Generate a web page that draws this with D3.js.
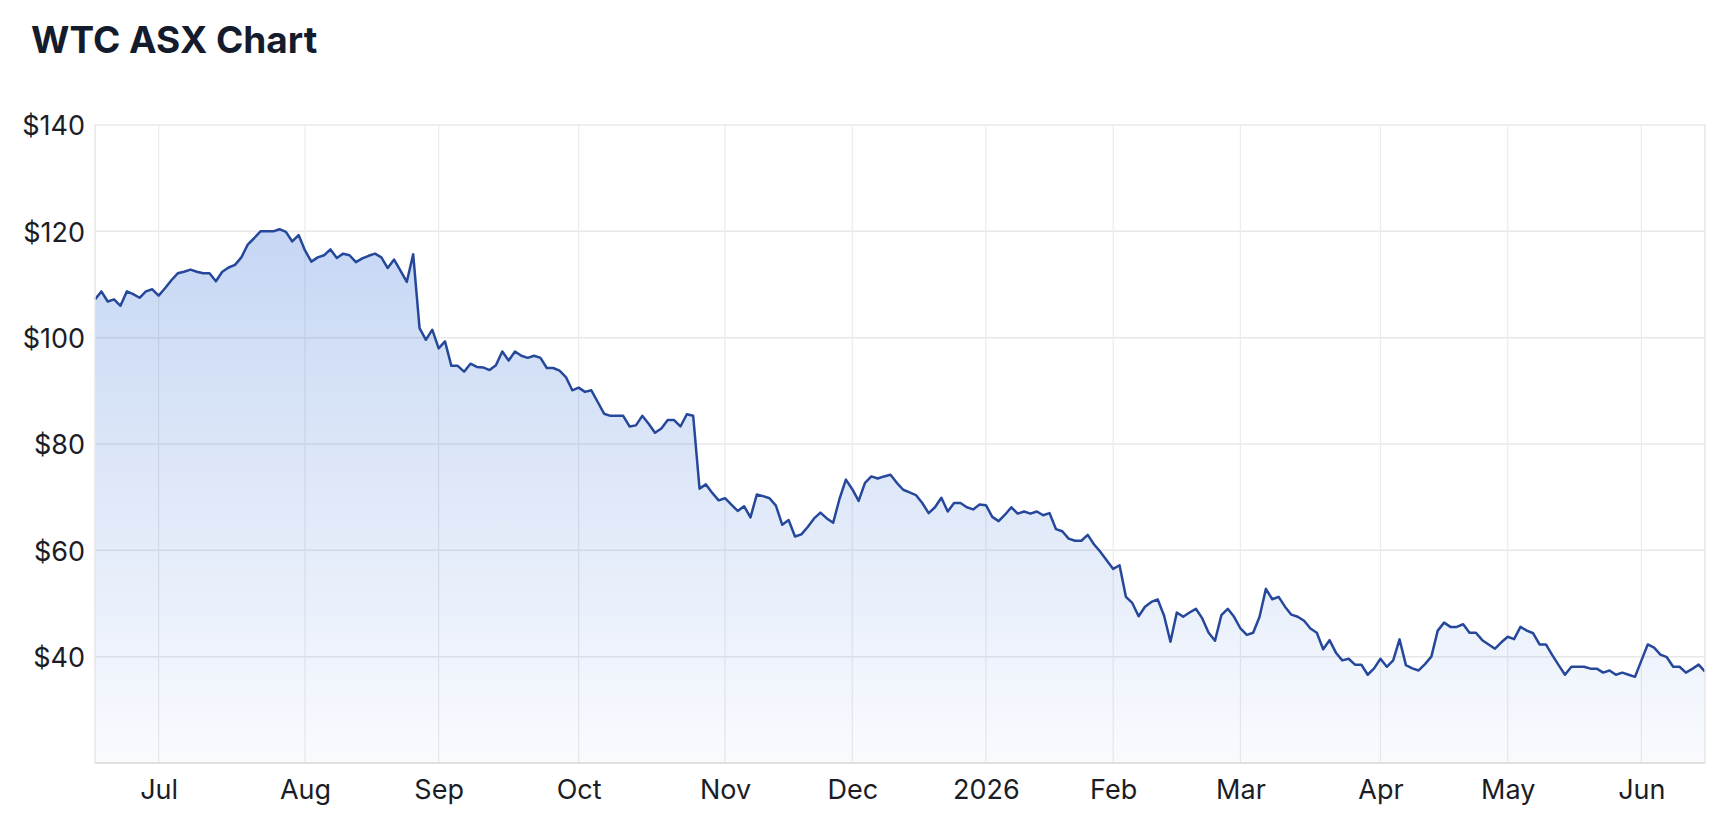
<!DOCTYPE html>
<html>
<head>
<meta charset="utf-8">
<script src="https://cdn.jsdelivr.net/npm/d3@7"></script>
<style>
  body { margin: 0; background: #fff; }
  text { font-family: Inter, "Open Sans", sans-serif; }
</style>
</head>
<body>
<script>
// Daily closing prices, one per ASX trading day (mid Jun 2025 -> mid Jun 2026)
const PRICES = [
  107.2, 108.7, 106.8, 107.2, 106.0, 108.7, 108.2, 107.5, 108.7, 109.1,
  107.9, 109.3, 110.8, 112.1, 112.4, 112.8, 112.4, 112.1, 112.1, 110.6,
  112.4, 113.2, 113.7, 115.1, 117.5, 118.7, 120.0, 120.0, 120.0, 120.4,
  119.9, 118.1, 119.3, 116.4, 114.3, 115.1, 115.5, 116.6, 115.0, 115.8,
  115.5, 114.2, 114.9, 115.4, 115.8, 115.1, 113.1, 114.7, 112.6, 110.5,
  115.7, 101.8, 99.6, 101.5, 98.0, 99.3, 94.7, 94.7, 93.6, 95.1,
  94.5, 94.4, 93.9, 94.8, 97.4, 95.7, 97.4, 96.6, 96.2, 96.6,
  96.2, 94.3, 94.3, 93.8, 92.6, 90.1, 90.6, 89.8, 90.1, 87.9,
  85.7, 85.3, 85.3, 85.3, 83.3, 83.5, 85.3, 83.8, 82.1, 82.9,
  84.5, 84.5, 83.3, 85.6, 85.3, 71.6, 72.4, 70.8, 69.4, 69.8,
  68.6, 67.4, 68.3, 66.2, 70.5, 70.2, 69.8, 68.4, 64.8, 65.7,
  62.6, 63.0, 64.4, 66.0, 67.1, 66.0, 65.2, 69.7, 73.3, 71.5,
  69.3, 72.7, 73.9, 73.5, 73.9, 74.2, 72.7, 71.4, 70.9, 70.4,
  68.9, 67.0, 68.1, 69.9, 67.3, 68.9, 68.9, 68.1, 67.7, 68.6,
  68.5, 66.3, 65.5, 66.7, 68.1, 66.9, 67.3, 66.9, 67.3, 66.6,
  67.0, 64.0, 63.6, 62.2, 61.8, 61.8, 62.9, 61.1, 59.7, 58.1,
  56.5, 57.2, 51.25, 50.1, 47.6, 49.4, 50.3, 50.75, 47.7, 42.8,
  48.3, 47.5, 48.3, 49.0, 47.2, 44.5, 43.0, 47.8, 49.0, 47.5,
  45.3, 44.1, 44.5, 47.5, 52.75, 50.8, 51.25, 49.4, 47.9, 47.5,
  46.75, 45.3, 44.5, 41.4, 43.1, 40.75, 39.3, 39.6, 38.5, 38.5,
  36.6, 37.8, 39.6, 38.1, 39.3, 43.25, 38.4, 37.8, 37.4, 38.6,
  40.0, 44.9, 46.4, 45.6, 45.6, 46.1, 44.5, 44.5, 43.1, 42.3,
  41.5, 42.7, 43.75, 43.3, 45.6, 44.9, 44.4, 42.3, 42.3, 40.3,
  38.4, 36.6, 38.1, 38.1, 38.1, 37.75, 37.75, 37.0, 37.4, 36.6,
  37.0, 36.6, 36.2, 39.25, 42.3, 41.7, 40.4, 39.9, 38.1, 38.1,
  37.0, 37.7, 38.5, 37.2
]

// First trading day of each month (index into PRICES)
const MONTH_INDEX = [10, 33, 54, 76, 99, 119, 140, 160, 180, 202, 222, 243]
const MONTH_LABELS = ['Jul', 'Aug', 'Sep', 'Oct', 'Nov', 'Dec', '2026', 'Feb', 'Mar', 'Apr', 'May', 'Jun']
const PRICE_TICKS = [40, 60, 80, 100, 120, 140]
const PRICE_DOMAIN = [20, 140]

// Initialization
const width = 1728
const height = 840
const plotLeft = 95
const plotRight = 1705
const plotTop = 125
const plotBottom = 763

const svg = d3.select('body').append('svg')
  .attr('width', width)
  .attr('height', height)

// Add title
svg.append('text')
  .attr('x', 31)
  .attr('y', 53)
  .style('font-size', '37px')
  .style('font-weight', 700)
  .style('fill', '#141b2d')
  .text('WTC ASX Chart')

// Scales
const x = d3.scaleLinear()
  .domain([0, PRICES.length - 1])
  .range([plotLeft, plotRight])

const y = d3.scaleLinear()
  .domain(PRICE_DOMAIN)
  .range([plotBottom, plotTop])

// Gridlines
const grid = svg.append('g')

grid.selectAll('line.h')
  .data(PRICE_TICKS)
  .enter()
  .append('line')
  .attr('class', 'h')
  .attr('x1', plotLeft)
  .attr('x2', plotRight)
  .attr('y1', d => y(d))
  .attr('y2', d => y(d))
  .style('stroke', '#e8e8e8')
  .style('stroke-width', 1.5)

grid.selectAll('line.v')
  .data(MONTH_INDEX)
  .enter()
  .append('line')
  .attr('class', 'v')
  .attr('x1', d => x(d))
  .attr('x2', d => x(d))
  .attr('y1', plotTop)
  .attr('y2', plotBottom)
  .style('stroke', '#ebebeb')
  .style('stroke-width', 1.2)

// Area gradient
const grad = svg.append('defs').append('linearGradient')
  .attr('id', 'fade')
  .attr('gradientUnits', 'userSpaceOnUse')
  .attr('x1', 0).attr('x2', 0)
  .attr('y1', plotTop).attr('y2', plotBottom)
grad.append('stop').attr('offset', 0).attr('stop-color', '#2f6bd6').attr('stop-opacity', 0.32)
grad.append('stop').attr('offset', 1).attr('stop-color', '#2f6bd6').attr('stop-opacity', 0.03)

const area = d3.area()
  .x((_, i) => x(i))
  .y0(plotBottom)
  .y1(d => y(d))

const line = d3.line()
  .x((_, i) => x(i))
  .y(d => y(d))

svg.append('path')
  .datum(PRICES)
  .attr('d', area)
  .attr('fill', 'url(#fade)')

svg.append('path')
  .datum(PRICES)
  .attr('d', line)
  .attr('fill', 'none')
  .style('stroke', '#25489b')
  .style('stroke-width', 2.5)
  .style('stroke-linejoin', 'round')

// Plot frame (left, right, bottom axis line)
svg.append('line')
  .attr('x1', plotLeft).attr('x2', plotLeft).attr('y1', plotTop).attr('y2', plotBottom)
  .style('stroke', '#e6e6e6').style('stroke-width', 1.5)
svg.append('line')
  .attr('x1', plotRight).attr('x2', plotRight).attr('y1', plotTop).attr('y2', plotBottom)
  .style('stroke', '#e6e6e6').style('stroke-width', 1.5)
svg.append('line')
  .attr('x1', plotLeft).attr('x2', plotRight).attr('y1', plotBottom).attr('y2', plotBottom)
  .style('stroke', '#e0e0e0').style('stroke-width', 2)

// Axes (labels only)
const yAxis = svg.append('g')
  .attr('transform', `translate(${plotLeft},0)`)
  .call(d3.axisLeft(y).tickValues(PRICE_TICKS).tickSize(0).tickPadding(10).tickFormat(d => `$${d}`))
yAxis.select('.domain').remove()
yAxis.selectAll('text')
  .style('font-size', '27px')
  .style('fill', '#1b1d26')
  .attr('dy', '0.36em')

const xAxis = svg.append('g')
  .attr('transform', `translate(0,${plotBottom})`)
  .call(d3.axisBottom(x).tickValues(MONTH_INDEX).tickSize(0).tickPadding(17)
    .tickFormat((_, i) => MONTH_LABELS[i]))
xAxis.select('.domain').remove()
xAxis.selectAll('text')
  .style('font-size', '27px')
  .style('fill', '#1b1d26')
</script>
</body>
</html>
